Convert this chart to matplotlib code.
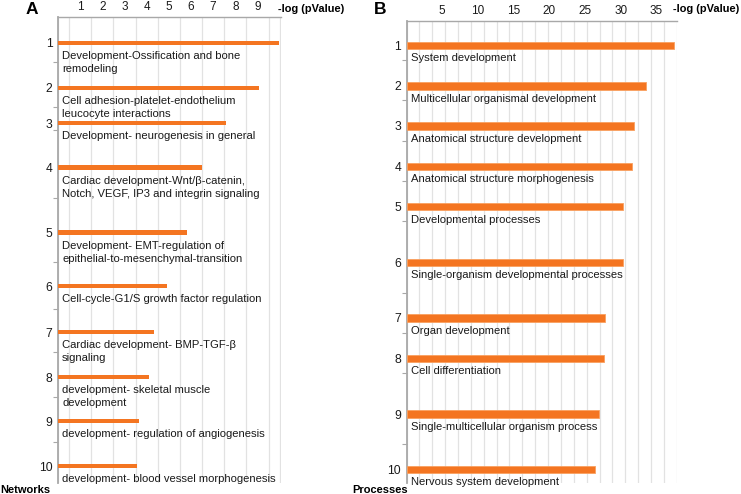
import matplotlib
matplotlib.use("Agg")
import matplotlib.pyplot as plt
import numpy as np

# ---------------- data ----------------
networks_labels = [
    "Development-Ossification and bone\nremodeling",
    "Cell adhesion-platelet-endothelium\nleucocyte interactions",
    "Development- neurogenesis in general",
    "Cardiac development-Wnt/β-catenin,\nNotch, VEGF, IP3 and integrin signaling",
    "Development- EMT-regulation of\nepithelial-to-mesenchymal-transition",
    "Cell-cycle-G1/S growth factor regulation",
    "Cardiac development- BMP-TGF-β\nsignaling",
    "development- skeletal muscle\ndevelopment",
    "development- regulation of angiogenesis",
    "development- blood vessel morphogenesis",
]
networks_values = [9.98, 9.09, 7.58, 6.50, 5.81, 4.91, 4.35, 4.09, 3.67, 3.58]

processes_labels = [
    "System development",
    "Multicellular organismal development",
    "Anatomical structure development",
    "Anatomical structure morphogenesis",
    "Developmental processes",
    "Single-organism developmental processes",
    "Organ development",
    "Cell differentiation",
    "Single-multicellular organism process",
    "Nervous system development",
]
processes_values = [37.44, 33.6, 31.9, 31.6, 30.35, 30.35, 27.8, 27.65, 27.0, 26.4]

rank_labels = [str(i) for i in range(1, 11)]
networks_xticks = [1, 2, 3, 4, 5, 6, 7, 8, 9]
processes_xticks = [5, 10, 15, 20, 25, 30, 35]

# ---------------- layout (pixel rows of the original figure) ----------------
W, H = 741, 494
rowsA = [42.8, 87.7, 123.3, 167.6, 232.6, 286.3, 332.3, 377.3, 421.3, 466.0]
marksA = [62, 107, 130, 198, 262, 309, 352, 397, 442]
rowsB = [45.4, 86.0, 126.0, 166.2, 206.7, 262.3, 318.0, 358.3, 414.0, 469.3]
marksB = [60, 100, 141, 181, 221, 293, 333, 373, 444]

FONT = "Liberation Sans"
plt.rcParams["font.family"] = [FONT, "DejaVu Sans"]
BAR = "#f47521"
GRID = "#e2e2e2"
SPINE = "#a8a8a8"
TXT = "#1a1a1a"

fig = plt.figure(figsize=(W / 100, H / 100), dpi=100)


def make_axes(left, right, top, bottom):
    return fig.add_axes([left / W, 1 - bottom / H, (right - left) / W, (bottom - top) / H])


def panel(ax, values, labels, rows, marks, xmax, xticks, grid_x, bar_h, top, bottom,
          bar_edge=None):
    ax.set_xlim(0, xmax)
    ax.set_ylim(bottom, top)
    ax.barh(rows, values, height=bar_h, color=BAR, left=0,
            edgecolor=bar_edge if bar_edge else BAR, linewidth=0.6 if bar_edge else 0,
            zorder=3)
    # grid (minor ticks only)
    ax.set_xticks(grid_x, minor=True)
    ax.grid(which="minor", axis="x", color=GRID, linewidth=0.9, zorder=0)
    ax.grid(which="major", visible=False)
    ax.xaxis.tick_top()
    ax.set_xticks(xticks)
    ax.set_xticklabels([str(t) for t in xticks])
    ax.tick_params(axis="x", which="both", length=0, pad=2.5, labelsize=8.5,
                   labelcolor=TXT)
    # y ticks: rank numbers + small marks
    ax.set_yticks(rows)
    ax.set_yticklabels(rank_labels)
    ax.set_yticks(marks, minor=True)
    ax.tick_params(axis="y", which="major", length=0, pad=4, labelsize=8.7,
                   labelcolor=TXT)
    ax.tick_params(axis="y", which="minor", length=3.5, width=0.8, color=SPINE)
    for s in ["right", "bottom"]:
        ax.spines[s].set_visible(False)
    ax.spines["top"].set_color(SPINE)
    ax.spines["top"].set_linewidth(1.0)
    ax.spines["left"].set_color(SPINE)
    ax.spines["left"].set_linewidth(1.3)
    ax.set_facecolor("none")
    for r, lab in zip(rows, labels):
        ax.annotate(lab, xy=(0, r), xytext=(3.0, -5.8), textcoords="offset points",
                    ha="left", va="top", fontsize=8.1, color=TXT,
                    linespacing=1.38, zorder=4)


# Panel A
axA = make_axes(58, 280.7, 16.7, 482.7)
xmaxA = 10.05
panel(axA, networks_values, networks_labels, rowsA, marksA, xmaxA, networks_xticks,
      np.arange(0, 10.01, 0.5), 4.3, 16.7, 482.7)

# Panel B
axB = make_axes(406.5, 676.7, 20.7, 482.7)
xmaxB = 37.85
panel(axB, processes_values, processes_labels, rowsB, marksB, xmaxB, processes_xticks,
      np.linspace(0, xmaxB, 22), 7.3, 20.7, 482.7, bar_edge="#f9a060")

# Figure texts
def ftext(x, y, s, **kw):
    fig.text(x / W, 1 - y / H, s, **kw)

ftext(26, 9.5, "A", fontsize=12.5, fontweight="bold", va="center", ha="left")
ftext(374, 9.5, "B", fontsize=12.5, fontweight="bold", va="center", ha="left")
ftext(277.5, 8.5, "-log (pValue)", fontsize=7.9, fontweight="bold", va="center", ha="left")
ftext(673, 8.5, "-log (pValue)", fontsize=7.9, fontweight="bold", va="center", ha="left")
ftext(0, 489.5, "Networks", fontsize=8, fontweight="bold", va="center", ha="left")
ftext(352, 489.5, "Processes", fontsize=8, fontweight="bold", va="center", ha="left")

fig.savefig("out.png", dpi=100, facecolor="white")
